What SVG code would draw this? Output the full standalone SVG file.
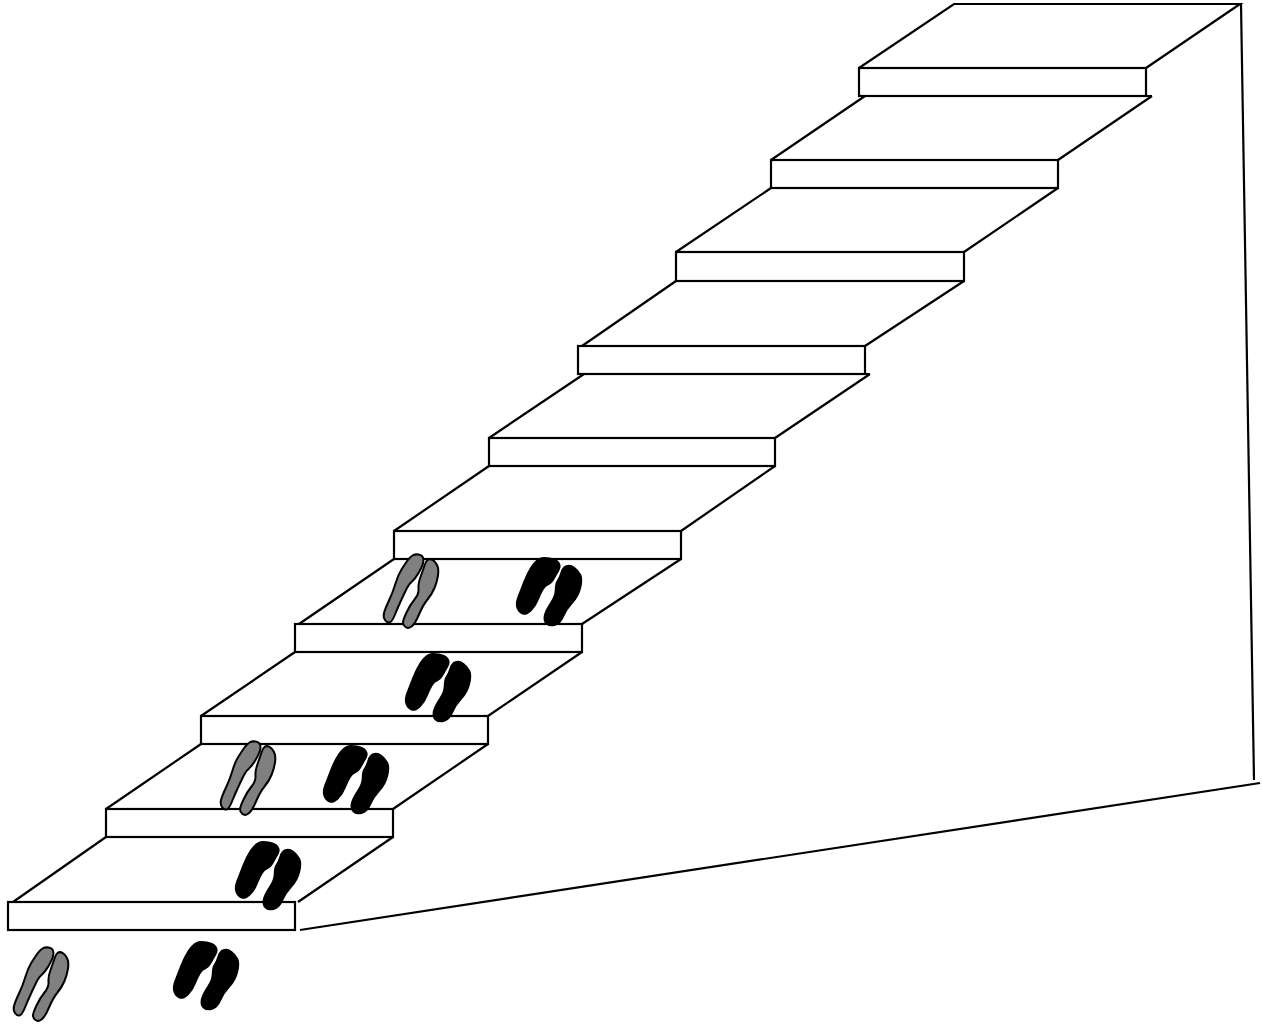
<svg xmlns="http://www.w3.org/2000/svg" width="1262" height="1024" viewBox="0 0 1262 1024">
<style>
.s{fill:none;stroke:#000;stroke-width:2.2;stroke-linejoin:miter}
.k{fill:#000;stroke:#000;stroke-width:2.5;stroke-linejoin:round}
.g{fill:#808080;stroke:#000;stroke-width:2;stroke-linejoin:round}
</style>
<defs>
<g id="grayPair" class="g">
<path d="M48.5,947.5 Q52,948 53,950.5 Q54,953 53,956.5 Q52,960 48.5,966 Q45,972 42,974.5 Q39,977 37,981 Q35,985 31.5,992.5 Q28,1000 25,1007.5 Q22,1015 19.5,1015.5 Q17,1016 15,1013 Q13,1010 14,1006 Q15,1002 19,993.5 Q23,985 25.5,976.5 Q28,968 31.5,962.5 Q35,957 37.5,953.5 Q40,950 42.5,948.5 Q45,947 48.5,947.5Z"/>
<path d="M62.5,952.8 Q65,954 67,958 Q69,962 68,968.5 Q67,975 64.5,981 Q62,987 57.5,992.5 Q53,998 49,1007.5 Q45,1017 41.5,1019.5 Q38,1022 35.5,1020 Q33,1018 33,1015.5 Q33,1013 36.5,1005.5 Q40,998 44.5,992.5 Q49,987 48.5,982 Q48,977 50.5,970 Q53,963 54.5,958.5 Q56,954 58,952.7 Q60,951.5 62.5,952.8Z"/>
</g>
<g id="blackPair" class="k">
<path d="M206.5,942.8 Q213,944 215.3,947 Q217.5,950 215.3,954 Q213,958 210.5,962.5 Q208,967 205,968 Q202,969 199.5,973 Q197,977 194.5,983.5 Q192,990 187.5,994.3 Q183,998.5 179.8,997.3 Q176.5,996 174.8,992 Q173,988 175.5,981.5 Q178,975 181.5,966 Q185,957 189,951 Q193,945 196.5,943.3 Q200,941.5 206.5,942.8Z"/>
<path d="M231,952 Q235,955 237,959 Q239,963 237,971.5 Q235,980 229,986.5 Q223,993 220,1000 Q217,1007 212,1008.5 Q207,1010 204,1007.5 Q201,1005 202,1000 Q203,995 208,987.5 Q213,980 213,974 Q213,968 215,965 Q217,962 218.5,957 Q220,952 223.5,950.5 Q227,949 231,952Z"/>
</g>
</defs>
<rect width="1262" height="1024" fill="#fff"/>
<g id="step1" class="s"><rect x="8" y="902" width="287" height="28"/><path d="M13,902 L106,837 M298,902 L393,837"/></g>
<g id="step2" class="s"><rect x="106" y="809" width="287" height="28"/><path d="M106,809 L201,744 M393,809 L488,744"/></g>
<g id="step3" class="s"><rect x="201" y="716" width="287" height="28"/><path d="M201,716 L295,652 M488,716 L582,652"/></g>
<g id="step4" class="s"><rect x="295" y="624" width="287" height="28"/><path d="M299,624 L394,559 M582,624 L681,559"/></g>
<g id="step5" class="s"><rect x="394" y="531" width="287" height="28"/><path d="M394,531 L489,466 M681,531 L775,466"/></g>
<g id="step6" class="s"><rect x="489" y="438" width="286" height="28"/><path d="M489,438 L584,374 M775,438 L870,374"/></g>
<g id="step7" class="s"><rect x="578" y="346" width="287" height="28"/><path d="M865,374 L870,374 M582,346 L676,281 M865,346 L964,281"/></g>
<g id="step8" class="s"><rect x="676" y="252" width="288" height="29"/><path d="M676,252 L771,188 M964,252 L1058,188"/></g>
<g id="step9" class="s"><rect x="771" y="160" width="287" height="28"/><path d="M771,160 L865,96 M1058,160 L1152,96"/></g>
<g id="step10" class="s"><rect x="859" y="68" width="287" height="28"/><path d="M1146,96 L1152,96 M859,68 L954,4 L1240,4 L1146,68"/></g>
<g id="connectors" class="s"><path d="M1241,4 L1254,780"/><path d="M300,930 L1260,783"/></g>
<g id="footprints-gray-1"><use href="#grayPair"/></g>
<g id="footprints-gray-2"><use href="#grayPair" x="207" y="-206"/></g>
<g id="footprints-gray-3"><use href="#grayPair" x="370" y="-393"/></g>
<g id="footprints-black-1"><use href="#blackPair"/></g>
<g id="footprints-black-2"><use href="#blackPair" x="62" y="-100"/></g>
<g id="footprints-black-3"><use href="#blackPair" x="150" y="-196"/></g>
<g id="footprints-black-4"><use href="#blackPair" x="232" y="-288"/></g>
<g id="footprints-black-5"><use href="#blackPair" x="343" y="-384"/></g>
</svg>
